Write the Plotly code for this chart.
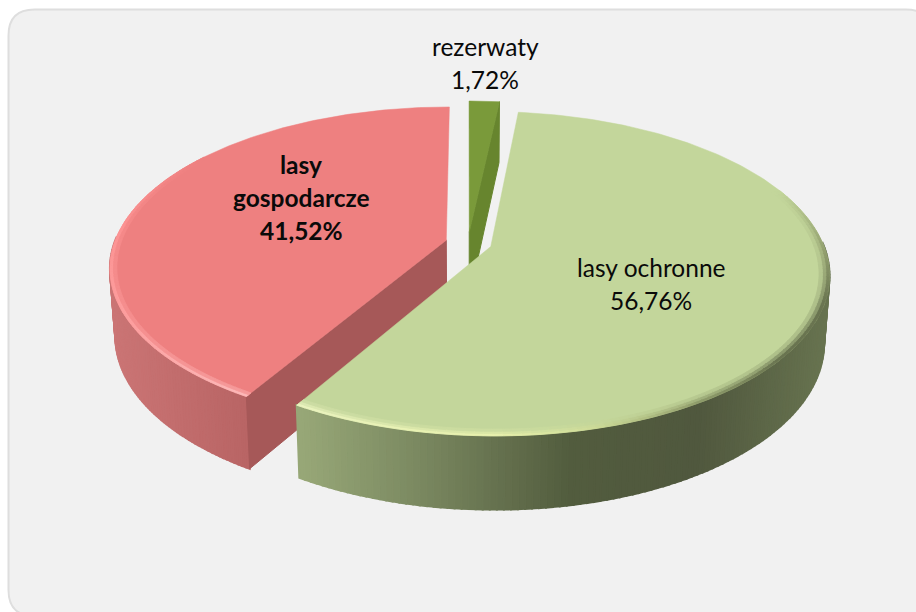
import numpy as np
import plotly.graph_objects as go

# ---- data
labels = ["rezerwaty", "lasy ochronne", "lasy gospodarcze"]
values = [1.72, 56.76, 41.52]
label_lines = [["rezerwaty"], ["lasy ochronne"], ["lasy", "gospodarcze"]]
label_bold = [False, False, True]

# ---- styling / view
TOP_COL = [(122, 154, 58), (195, 214, 155), (238, 128, 128)]
SIDE_COL = ["#67852e", None, "#a65858"]
CARD = "#f1f1f1"
EDGE = "#dedede"
EXPLODE = [0.07, 0.072, 0.068]
Cx, Cy, A, B, K = 468.0, 243.0, 332.0, 156.4, 0.167
A2, B2, H = 332.0 * 0.985, 162.4, 66.3

LABEL_XY = [(485, 46), (651, 267), (301, 164)]
LINE_STEP = 33


def proj(X, Y, bottom=False):
    s = 1.0 / (1.0 - K * Y)
    if bottom:
        return Cx + A2 * X * s, Cy + H + B2 * Y * s
    return Cx + A * X * s, Cy + B * Y * s


def rgb(c):
    return "rgb(%d,%d,%d)" % tuple(int(round(v)) for v in c)


def mix(stops, t):
    return [np.interp(t, [p[0] for p in stops], [p[1][i] for p in stops]) for i in range(3)]


fig = go.Figure()


def poly(xs, ys, color, lw=1.0):
    xs, ys = list(xs), list(ys)
    fig.add_trace(go.Scatter(
        x=xs + xs[:1], y=ys + ys[:1], mode="lines", fill="toself", fillcolor=color,
        line=dict(color=color, width=lw), hoverinfo="skip", showlegend=False))


# slice geometry comes from the values
total = sum(values)
edges = np.cumsum([0] + values) / total * 2 * np.pi
slices = []
for i in range(3):
    t0, t1 = edges[i], edges[i + 1]
    mid = (t0 + t1) / 2
    slices.append((t0, t1, EXPLODE[i] * np.sin(mid), -EXPLODE[i] * np.cos(mid)))


def rim(t, ox, oy, r=1.0):
    return ox + r * np.sin(t), oy - r * np.cos(t)


def wall(i, stops):
    """Outer wall as strips, shaded by horizontal position."""
    t0, t1, ox, oy = slices[i]
    ts = np.linspace(t0, t1, 200)
    for a, b in zip(ts[:-1], ts[1:]):
        if np.cos(a) > 0.02 and np.cos(b) > 0.02:
            continue
        Xa, Ya = rim(a, ox, oy)
        Xb, Yb = rim(b, ox, oy)
        p = [proj(Xa, Ya), proj(Xb, Yb), proj(Xb, Yb, True), proj(Xa, Ya, True)]
        poly([q[0] for q in p], [q[1] for q in p], rgb(mix(stops, (p[0][0] + p[1][0]) / 2)), 2.0)


def side(i, t, color):
    t0, t1, ox, oy = slices[i]
    Xo, Yo = rim(t, ox, oy)
    p = [proj(ox, oy), proj(Xo, Yo), proj(Xo, Yo, True), proj(ox, oy, True)]
    poly([q[0] for q in p], [q[1] for q in p], color)


def top(i):
    t0, t1, ox, oy = slices[i]
    ts = np.linspace(t0, t1, 200)
    px, py = proj(np.r_[ox, ox + np.sin(ts)], np.r_[oy, oy - np.cos(ts)])
    poly(px, py, rgb(TOP_COL[i]), 0.5)


def bevel(i, stops, bands):
    """Bevel along the rim of the top face, colour as a function of the angle in degrees."""
    t0, t1, ox, oy = slices[i]
    ts = np.linspace(t0, t1, 150)
    lo, hi = np.radians(stops[0][0]), np.radians(stops[-1][0])
    base = np.array(TOP_COL[i], float)
    for a, b in zip(ts[:-1], ts[1:]):
        if b < lo or a > hi:
            continue
        col = np.array(mix(stops, np.degrees((a + b) / 2)))
        for r0, r1, w in bands:
            p = [proj(*rim(a, ox, oy, r0)), proj(*rim(b, ox, oy, r0)),
                 proj(*rim(b, ox, oy, r1)), proj(*rim(a, ox, oy, r1))]
            poly([q[0] for q in p], [q[1] for q in p], rgb(base * (1 - w) + col * w), 0.8)


# card
r = 26
x0, y0, x1, y1 = 8.5, 9.5, 932, 616
fig.add_shape(type="path", xref="x", yref="y", layer="below",
              path=(f"M {x0+r} {y0} L {x1-r} {y0} Q {x1} {y0} {x1} {y0+r} L {x1} {y1-r} "
                    f"Q {x1} {y1} {x1-r} {y1} L {x0+r} {y1} "
                    f"Q {x0} {y1} {x0} {y1-r} L {x0} {y0+r} Q {x0} {y0} {x0+r} {y0} Z"),
              fillcolor=CARD, line=dict(color=EDGE, width=2))

# rezerwaty (furthest back)
side(0, edges[1], SIDE_COL[0])
top(0)

# lasy gospodarcze
wall(2, [(100, (204, 118, 118)), (250, (184, 100, 100))])
side(2, edges[2], SIDE_COL[2])
top(2)
bevel(2, [(210, (255, 195, 195)), (240, (255, 165, 165)), (275, (255, 150, 150)),
          (305, TOP_COL[2])],
      [(1.0, 0.99, 0.85), (0.99, 0.98, 0.4)])

# lasy ochronne (front)
wall(1, [(297, (152, 168, 120)), (420, (122, 136, 96)), (570, (82, 92, 62)),
         (700, (80, 88, 62)), (830, (104, 116, 80))])
top(1)
bevel(1, [(68, TOP_COL[1]), (92, (140, 152, 105)), (110, (95, 105, 72)), (130, (95, 105, 72)),
          (148, (135, 148, 100)), (165, (205, 218, 150)), (180, (236, 244, 175)),
          (211, (238, 246, 195))],
      [(1.0, 0.99, 0.9), (0.99, 0.98, 0.55), (0.98, 0.97, 0.2)])


def pct(v):
    return f"{v:.2f}".replace(".", ",") + "%"


for i, lines in enumerate(label_lines):
    lx, ly = LABEL_XY[i]
    for j, txt in enumerate(lines + [pct(values[i])]):
        if label_bold[i]:
            txt = f"<b>{txt}</b>"
        fig.add_annotation(x=lx, y=ly + j * LINE_STEP, text=txt, showarrow=False,
                           xref="x", yref="y", xanchor="center", yanchor="middle",
                           font=dict(family="Lato", size=24.5, color="#0a0a0a"))

fig.update_layout(
    width=916, height=612, margin=dict(l=0, r=0, t=0, b=0),
    paper_bgcolor="#ffffff", plot_bgcolor="#ffffff", showlegend=False,
    xaxis=dict(range=[0, 916], visible=False, fixedrange=True),
    yaxis=dict(range=[612, 0], visible=False, fixedrange=True),
)
fig.write_html("out.html", config={"displayModeBar": False},
               post_script="document.body.style.margin='0';document.body.style.overflow='hidden';")
